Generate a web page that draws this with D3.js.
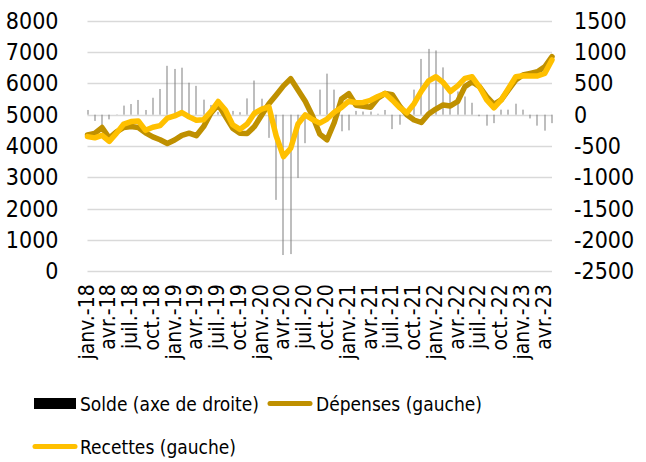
<!DOCTYPE html>
<html>
<head>
<meta charset="utf-8">
<script src="https://cdn.jsdelivr.net/npm/d3@7"></script>
<style>
    body { margin: 0; background: #fff; }
    svg text { font-family: "DejaVu Sans Condensed", "DejaVu Sans", sans-serif; fill: #000; }
</style>
</head>
<body>
<svg id="chart" width="646" height="462"></svg>
<script>
//----------------------------//
//            DATA            //
//----------------------------//
const moisNoms = ["janv.", "févr.", "mars", "avr.", "mai", "juin", "juil.", "août", "sept.", "oct.", "nov.", "déc."];
const annees = ["18", "19", "20", "21", "22", "23"];

// janv.-18 -> mai-23, 65 mois
const mois = [];
annees.forEach(a => moisNoms.forEach(m => mois.push(`${m}-${a}`)));
mois.splice(65);

const depenses = [
    4350, 4400, 4590, 4250, 4450, 4590, 4620, 4590, 4420, 4290,
    4200, 4080, 4190, 4340, 4410, 4330, 4620, 5050, 5320, 4950,
    4570, 4410, 4400, 4620, 4990, 5350, 5630, 5920, 6150, 5790,
    5430, 4960, 4380, 4200, 4750, 5500, 5670, 5300, 5270, 5240,
    5525, 5680, 5640, 5280, 5000, 4830, 4750, 5020, 5180, 5310,
    5280, 5420, 5895, 6050, 5895, 5575, 5330, 5470, 5790, 6105,
    6265, 6320, 6370, 6530, 6850
];

const recettes = [
    4300, 4260, 4340, 4150, 4410, 4700, 4780, 4800, 4500, 4600,
    4650, 4890, 4960, 5070, 4930, 4820, 4840, 5100, 5420, 5150,
    4680, 4530, 4700, 5045, 5175, 5250, 4320, 3660, 3930, 4700,
    4995, 4845, 4730, 4860, 5075, 5230, 5430, 5380, 5390, 5460,
    5580, 5675, 5465, 5230, 5060, 5350, 5750, 6080, 6210, 6030,
    5740, 5920, 6160, 6210, 5890, 5470, 5220, 5470, 5840, 6210,
    6245, 6235, 6235, 6320, 6750
];

const solde = [
    75, -100, -190, -75, 5, 145, 170, 235, 75, 270,
    410, 780, 730, 750, 510, 460, 240, 155, 45, 0,
    60, 40, 260, 545, 255, -370, -1360, -2240, -2225, -1010,
    -455, -110, 400, 655, 400, -265, -250, 60, 50, 50,
    15, 75, -230, -160, 0, 400, 890, 1050, 1025, 755,
    400, 370, 290, 190, -25, -175, -135, 80, 80, 175,
    80, -60, -175, -255, -135
];

const ticksGauche = [0, 1000, 2000, 3000, 4000, 5000, 6000, 7000, 8000];
const ticksDroite = [-2500, -2000, -1500, -1000, -500, 0, 500, 1000, 1500];

const series = [
    { nom: "Dépenses (gauche)", valeurs: depenses, couleur: "#BF9000" },
    { nom: "Recettes (gauche)", valeurs: recettes, couleur: "#FFC000" }
];

//----------------------------//
//           CHART            //
//----------------------------//
const plot = { left: 87.5, right: 552, top: 20.7, bottom: 271.3 };
const svg = d3.select("#chart");

const x = d3.scalePoint()
    .domain(mois)
    .range([plot.left, plot.right])
    .padding(0);

const yG = d3.scaleLinear().domain([0, 8000]).range([plot.bottom, plot.top]);
const yD = d3.scaleLinear().domain([-2500, 1500]).range([plot.bottom, plot.top]);

const plain = d => String(d);  // "-500", pas de séparateur de milliers

// gridlines
svg.append("g")
    .selectAll("line")
    .data(ticksGauche)
    .enter()
    .append("line")
    .attr("x1", plot.left)
    .attr("x2", plot.right)
    .attr("y1", d => Math.round(yG(d)) + 0.5)
    .attr("y2", d => Math.round(yG(d)) + 0.5)
    .attr("stroke", "#d9d9d9")
    .attr("stroke-width", 1.3);

// left axis
svg.append("g")
    .attr("transform", `translate(${plot.left},0)`)
    .call(d3.axisLeft(yG).tickValues(ticksGauche).tickFormat(plain).tickSize(0).tickPadding(29))
    .call(g => g.select(".domain").remove())
    .selectAll("text")
    .style("font-size", "23px")
    .attr("fill", "#000");

// right axis
svg.append("g")
    .attr("transform", `translate(${plot.right},0)`)
    .call(d3.axisRight(yD).tickValues(ticksDroite).tickFormat(plain).tickSize(0).tickPadding(22))
    .call(g => g.select(".domain").remove())
    .selectAll("text")
    .style("font-size", "23px")
    .attr("fill", "#000");

// bottom axis, one label every 3 months
const xAxis = svg.append("g")
    .attr("transform", `translate(0,${plot.bottom})`)
    .call(d3.axisBottom(x).tickValues(mois.filter((d, i) => i % 3 === 0)).tickSize(0).tickPadding(0));
xAxis.select(".domain").remove();
xAxis.selectAll("text")
    .style("font-size", "21px")
    .attr("text-anchor", "end")
    .attr("dy", null)
    .attr("y", 0)
    .attr("transform", "translate(-1.5,13) rotate(-90)")
    .attr("dominant-baseline", "central");

// solde bars (thin)
svg.append("g")
    .selectAll("rect")
    .data(solde)
    .enter()
    .append("rect")
    .attr("x", (d, i) => Math.round(x(mois[i])) - 0.5)
    .attr("width", 1)
    .attr("y", d => Math.min(yD(d), yD(0)))
    .attr("height", d => Math.abs(yD(d) - yD(0)))
    .attr("fill", "#7f7f7f");

// lines
const line = d3.line()
    .x((d, i) => x(mois[i]))
    .y(d => yG(d));

series.forEach(s => {
    svg.append("path")
        .datum(s.valeurs)
        .attr("fill", "none")
        .attr("stroke", s.couleur)
        .attr("stroke-width", 5.5)
        .attr("stroke-linejoin", "round")
        .attr("stroke-linecap", "round")
        .attr("d", line);
});

// legend
const legend = svg.append("g").style("font-size", "19px");

legend.append("rect")
    .attr("x", 34).attr("y", 398)
    .attr("width", 42).attr("height", 11)
    .attr("fill", "#000");
legend.append("text").attr("x", 80).attr("y", 410.5).text("Solde (axe de droite)");

legend.append("line")
    .attr("x1", 270).attr("x2", 310).attr("y1", 403.5).attr("y2", 403.5)
    .attr("stroke", series[0].couleur).attr("stroke-width", 5).attr("stroke-linecap", "round");
legend.append("text").attr("x", 316).attr("y", 410.5).text(series[0].nom);

legend.append("line")
    .attr("x1", 35).attr("x2", 75).attr("y1", 446.5).attr("y2", 446.5)
    .attr("stroke", series[1].couleur).attr("stroke-width", 5).attr("stroke-linecap", "round");
legend.append("text").attr("x", 80).attr("y", 454).text(series[1].nom);
</script>
</body>
</html>
